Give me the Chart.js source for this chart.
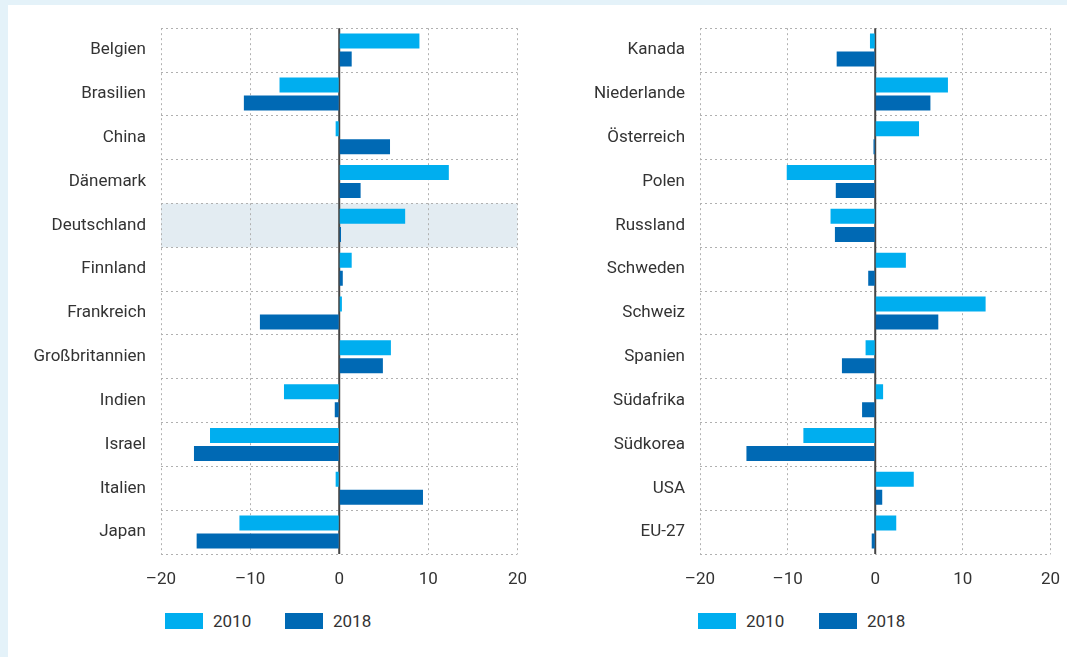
<!DOCTYPE html>
<html lang="de">
<head>
<meta charset="utf-8">
<title>Veränderung 2010 / 2018</title>
<script src="https://cdn.jsdelivr.net/npm/chart.js@4/dist/chart.umd.min.js"></script>
<style>
  body { margin: 0; background: #e4f2f9; font-family: Roboto, sans-serif; overflow: hidden; }
  .panel { position: absolute; left: 8px; top: 5px; width: 1059px; height: 652px; background: #fff; overflow: hidden; }
  canvas { position: absolute; top: -2px; }
  #chartLeft { left: 0; }
  #chartRight { left: 537px; }
  .legend { position: absolute; top: 608px; display: flex; color: #333; font-size: 17px; }
  .legend .item { display: flex; align-items: center; height: 16px; }
  .legend .swatch { width: 38px; height: 16px; margin-right: 10px; }
</style>
</head>
<body>
<div class="panel">
  <canvas id="chartLeft" width="535" height="602"></canvas>
  <canvas id="chartRight" width="531" height="602"></canvas>
  <div class="legend" id="legendLeft" style="left:157px"></div>
  <div class="legend" id="legendRight" style="left:690px"></div>
</div>
<script>
// Daten
const years = ["2010", "2018"];
const yearColors = ["#00aeef", "#0069b4"];
const xTickValues = [-20, -10, 0, 10, 20];

const countriesLeft = [
  "Belgien", "Brasilien", "China", "Dänemark", "Deutschland", "Finnland",
  "Frankreich", "Großbritannien", "Indien", "Israel", "Italien", "Japan",
];
const values2010Left = [9.0, -6.7, -0.4, 12.3, 7.4, 1.4, 0.3, 5.8, -6.2, -14.5, -0.4, -11.2];
const values2018Left = [1.4, -10.7, 5.7, 2.4, 0.2, 0.4, -8.9, 4.9, -0.5, -16.3, 9.4, -16.0];

const countriesRight = [
  "Kanada", "Niederlande", "Österreich", "Polen", "Russland", "Schweden",
  "Schweiz", "Spanien", "Südafrika", "Südkorea", "USA", "EU-27",
];
const values2010Right = [-0.6, 8.3, 5.0, -10.1, -5.1, 3.5, 12.6, -1.1, 0.9, -8.2, 4.4, 2.4];
const values2018Right = [-4.4, 6.3, -0.2, -4.5, -4.6, -0.8, 7.2, -3.8, -1.5, -14.7, 0.8, -0.4];

const highlight = "Deutschland";

Chart.defaults.font.family = "Roboto, 'Liberation Sans', sans-serif";
Chart.defaults.font.size = 17;
Chart.defaults.color = "#333";

// Hintergrund für hervorgehobenes Land
const rowHighlight = {
  id: "rowHighlight",
  beforeDraw(chart) {
    const idx = chart.data.labels.indexOf(highlight);
    if (idx < 0) return;
    const { ctx, chartArea } = chart;
    const h = (chartArea.bottom - chartArea.top) / chart.data.labels.length;
    const c = chart.scales.y.getPixelForValue(idx);
    ctx.save();
    ctx.fillStyle = "#e3ecf2";
    ctx.fillRect(chartArea.left, c - h / 2, chartArea.right - chartArea.left, h);
    ctx.restore();
  },
};

// Nulllinie
const zeroLine = {
  id: "zeroLine",
  beforeDatasetsDraw(chart) {
    const { ctx, chartArea } = chart;
    const x = chart.scales.x.getPixelForValue(0);
    ctx.save();
    ctx.strokeStyle = "#444";
    ctx.lineWidth = 2;
    ctx.beginPath();
    ctx.moveTo(x, chartArea.top);
    ctx.lineTo(x, chartArea.bottom);
    ctx.stroke();
    ctx.restore();
  },
};

function makeChart(id, labels, v2010, v2018, yWidth) {
  return new Chart(id, {
    type: "bar",
    data: {
      labels: labels,
      datasets: [
        { label: years[0], data: v2010, backgroundColor: yearColors[0] },
        { label: years[1], data: v2018, backgroundColor: yearColors[1] },
      ],
    },
    options: {
      indexAxis: "y",
      responsive: false,
      animation: false,
      categoryPercentage: 0.822,
      barPercentage: 0.833,
      layout: { padding: { top: 17, right: 24, bottom: 11, left: 0 } },
      plugins: { legend: { display: false }, tooltip: { enabled: false } },
      scales: {
        x: {
          min: xTickValues[0],
          max: xTickValues[xTickValues.length - 1],
          ticks: {
            stepSize: 10,
            padding: 16,
            callback: (v) => (v < 0 ? "\u2013" + Math.abs(v) : String(v)),
          },
          grid: { color: "#b0b0b0", drawTicks: false },
          border: { display: false, dash: [2, 3] },
          afterFit: (s) => { s.height = 40; },
        },
        y: {
          ticks: { padding: 15 },
          grid: { color: "#b0b0b0", drawTicks: false },
          border: { display: false, dash: [2, 3] },
          afterFit: (s) => { s.width = yWidth; },
        },
      },
    },
    plugins: [rowHighlight, zeroLine],
  });
}

makeChart("chartLeft", countriesLeft, values2010Left, values2018Left, 153);
makeChart("chartRight", countriesRight, values2010Right, values2018Right, 155);

// Legende
function buildLegend(elId, itemWidth) {
  const el = document.getElementById(elId);
  years.forEach((y, i) => {
    const item = document.createElement("div");
    item.className = "item";
    item.style.width = itemWidth + "px";
    item.innerHTML = '<span class="swatch" style="background:' + yearColors[i] + '"></span><span>' + y + "</span>";
    el.appendChild(item);
  });
}
buildLegend("legendLeft", 120);
buildLegend("legendRight", 121);
</script>
</body>
</html>
